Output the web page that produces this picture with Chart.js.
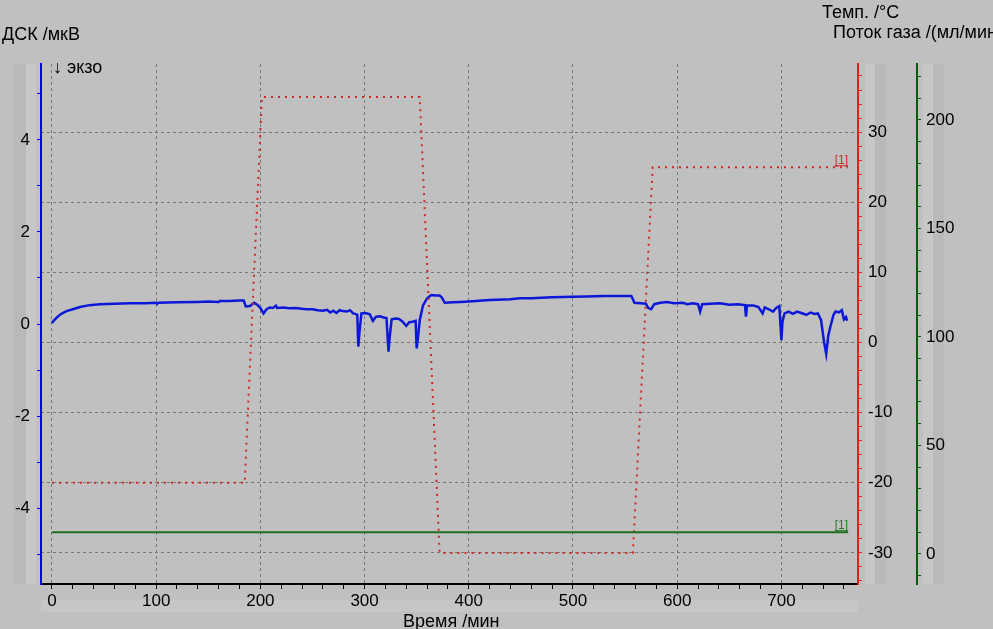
<!DOCTYPE html>
<html>
<head>
<meta charset="utf-8">
<script src="https://cdn.jsdelivr.net/npm/chart.js@4.4.1/dist/chart.umd.min.js"></script>
<style>
  html, body { margin: 0; padding: 0; background: #c0c0c0; overflow: hidden; }
  #wrap { position: relative; width: 993px; height: 629px; overflow: hidden; }
  #c { position: absolute; left: 0; top: 0; }
  .lbl { position: absolute; white-space: nowrap; font-family: "Liberation Sans", Arial, sans-serif;
         font-size: 18px; line-height: 20px; color: #000; }
</style>
</head>
<body>
<div id="wrap">
  <canvas id="c" width="993" height="629"></canvas>
  <div class="lbl" style="left:2px;top:24px">ДСК /мкВ</div>
  <div class="lbl" style="left:822px;top:2px">Темп. /°C</div>
  <div class="lbl" style="left:833px;top:22px">Поток газа /(мл/мин)</div>
  <div class="lbl" style="left:403px;top:611px">Время /мин</div>
  <div class="lbl" style="left:53px;top:57px">↓ экзо</div>
</div>
<script>
// DSC signal, µV vs time, min
var dscTime = [0, 2, 5, 9, 14, 20, 27, 36, 46, 60, 75, 90, 100, 101, 102, 120, 140, 150, 160, 161,
  170, 180, 184, 186, 190, 194, 197, 200, 203, 206, 209, 212, 215, 216, 222, 228, 234, 240, 244, 250,
  255, 260, 264, 267, 270, 273, 276, 279, 283, 286, 289, 291, 293, 294, 295, 297, 301, 305, 308, 311,
  315, 318, 321, 323, 324, 326, 330, 333, 336, 340, 343, 346, 349, 350, 351, 353, 356, 360, 364, 368,
  372, 374, 377, 385, 392, 400, 420, 440, 449, 460, 480, 500, 513, 530, 545, 556, 559, 565, 570, 572,
  575, 578, 584, 590, 597, 605, 610, 615, 620, 622, 624, 632, 641, 650, 658, 665, 666, 667, 673, 678,
  682, 684, 688, 692, 695, 698, 700, 701, 703, 707, 711, 715, 719, 724, 728, 732, 735, 738, 741, 743,
  745, 747, 750, 752, 755, 758, 760, 762, 763];
var dscValue = [0.02, 0.08, 0.15, 0.22, 0.28, 0.32, 0.37, 0.41, 0.43, 0.44, 0.45, 0.45, 0.46, 0.44, 0.46, 0.47, 0.48, 0.49, 0.48, 0.50,
  0.50, 0.51, 0.51, 0.38, 0.39, 0.46, 0.42, 0.35, 0.23, 0.32, 0.36, 0.35, 0.40, 0.35, 0.36, 0.34, 0.35, 0.33, 0.32, 0.32,
  0.30, 0.29, 0.31, 0.25, 0.29, 0.24, 0.30, 0.28, 0.27, 0.30, 0.23, 0.22, 0.20, -0.49, -0.20, 0.23, 0.24, 0.21, 0.07, 0.16,
  0.17, 0.14, 0.13, -0.60, -0.30, 0.10, 0.12, 0.11, 0.06, -0.04, 0.04, 0.05, 0.07, -0.53, -0.35, 0.09, 0.40, 0.56, 0.63, 0.62,
  0.62, 0.58, 0.46, 0.47, 0.48, 0.49, 0.52, 0.54, 0.56, 0.56, 0.58, 0.59, 0.60, 0.61, 0.61, 0.61, 0.46, 0.45, 0.44, 0.35,
  0.32, 0.43, 0.46, 0.48, 0.45, 0.46, 0.43, 0.45, 0.43, 0.27, 0.43, 0.44, 0.45, 0.42, 0.43, 0.41, 0.16, 0.40, 0.40, 0.37,
  0.23, 0.36, 0.32, 0.27, 0.35, 0.39, -0.35, 0.05, 0.23, 0.27, 0.22, 0.27, 0.24, 0.20, 0.25, 0.22, 0.23, 0.09, -0.40, -0.65,
  -0.25, -0.06, 0.20, 0.27, 0.25, 0.30, 0.10, 0.15, 0.07];

// temperature program, °C
var tempTime = [0, 185, 201.5, 353, 372, 557.5, 576.5, 764];
var tempValue = [-20, -20, 35, 35, -30, -30, 25, 25];

// gas flow, ml/min
var gasTime = [0, 764];
var gasValue = [10, 10];

function pts(xs, ys){
  var out = [];
  for (var i = 0; i < xs.length; i++) out.push({x: xs[i], y: ys[i]});
  return out;
}

var FONT = '"Liberation Sans", Arial, sans-serif';
var tickFont = {family: FONT, size: 17};
var gridGray = '#787878';

// faint label stripes of the original program
var bandsPlugin = {
  id: 'bands',
  beforeDraw: function(chart){
    var ctx = chart.ctx, a = chart.chartArea;
    ctx.save();
    ctx.fillStyle = '#c0c0c0';
    ctx.fillRect(0, 0, chart.width, chart.height);
    var h = a.bottom - a.top;
    ctx.fillStyle = '#b9b9b9';
    ctx.fillRect(14, a.top, 12, h);
    ctx.fillRect(a.right + 17, a.top, 11, h);
    ctx.fillRect(a.right + 75, a.top, 11, h);
    ctx.fillStyle = '#c7c7c7';
    ctx.fillRect(26, a.top, 10, h);
    ctx.fillRect(a.right + 7, a.top, 10, h);
    ctx.fillRect(a.right + 65, a.top, 10, h);
    ctx.fillStyle = '#c6c6c6';
    ctx.fillRect(a.left, a.bottom + 16, a.right - a.left, 12);
    ctx.restore();
  }
};

// "[1]" tags at the end of the temperature and gas curves
var tagPlugin = {
  id: 'tags',
  afterDatasetsDraw: function(chart){
    var ctx = chart.ctx;
    var xs = chart.scales.x;
    var tags = [
      {scale: chart.scales.yT, x: tempTime[tempTime.length - 1], y: tempValue[tempValue.length - 1], color: '#d03030'},
      {scale: chart.scales.yG, x: gasTime[gasTime.length - 1], y: gasValue[gasValue.length - 1], color: '#2a7a2a'}
    ];
    ctx.save();
    ctx.font = '12px ' + FONT;
    ctx.textAlign = 'right';
    ctx.textBaseline = 'alphabetic';
    tags.forEach(function(t){
      var px = xs.getPixelForValue(t.x);
      var py = t.scale.getPixelForValue(t.y) - 3;
      ctx.fillStyle = t.color;
      ctx.fillText('[1]', px, py);
      var w = ctx.measureText('[1]').width;
      ctx.fillRect(px - w, py + 1, w, 1);
    });
    ctx.restore();
  }
};

function gridDash(c){ return c.type === 'tick' ? [3, 3] : []; }

new Chart(document.getElementById('c').getContext('2d'), {
  type: 'line',
  data: {
    datasets: [
      {
        label: 'Поток газа',
        data: pts(gasTime, gasValue),
        yAxisID: 'yG',
        borderColor: '#1f6f1f',
        borderWidth: 2,
        pointRadius: 0,
        tension: 0
      },
      {
        label: 'Темп.',
        data: pts(tempTime, tempValue),
        yAxisID: 'yT',
        borderColor: '#d02828',
        borderWidth: 2,
        borderDash: [2, 5],
        pointRadius: 0,
        tension: 0
      },
      {
        label: 'ДСК',
        data: pts(dscTime, dscValue),
        yAxisID: 'y',
        borderColor: '#0c18d8',
        borderWidth: 2.5,
        pointRadius: 0,
        tension: 0
      }
    ]
  },
  options: {
    responsive: false,
    animation: false,
    layout: { padding: { top: 64, left: 0, right: 0, bottom: 0 } },
    plugins: { legend: { display: false }, tooltip: { enabled: false } },
    scales: {
      x: {
        type: 'linear',
        min: -10.5,
        max: 773.5,
        afterFit: function(s){ s.height = 45; },
        ticks: {
          stepSize: 20, autoSkip: false, maxRotation: 0, includeBounds: false,
          color: '#000', font: tickFont, padding: 2,
          callback: function(v){ return v % 100 === 0 ? String(v) : ''; }
        },
        grid: {
          color: function(c){ return c.tick && c.tick.value % 100 === 0 ? gridGray : 'rgba(0,0,0,0)'; },
          tickColor: '#000', tickLength: 5, tickBorderDash: [], lineWidth: 1
        },
        border: { color: '#000', width: 2, dash: gridDash }
      },
      y: {
        position: 'left',
        min: -5.65,
        max: 5.65,
        afterFit: function(s){ s.width = 41; },
        ticks: {
          stepSize: 1, autoSkip: false, includeBounds: false,
          color: '#000', font: tickFont, padding: 7,
          callback: function(v){ return v % 2 === 0 ? String(v) : ''; }
        },
        grid: { drawOnChartArea: false, tickColor: '#0000ff', tickLength: 4, tickBorderDash: [] },
        border: { color: '#0000ff', width: 2 }
      },
      yT: {
        position: 'right',
        min: -34.43,
        max: 39.71,
        afterFit: function(s){ s.width = 59; },
        ticks: {
          stepSize: 2, autoSkip: false, includeBounds: false,
          color: '#000', font: tickFont, padding: 6,
          callback: function(v){ return v % 10 === 0 ? String(v) : ''; }
        },
        grid: {
          drawOnChartArea: true,
          color: function(c){ return c.tick && c.tick.value % 10 === 0 ? gridGray : 'rgba(0,0,0,0)'; },
          tickColor: '#e81c1c', tickLength: 4, tickBorderDash: [], lineWidth: 1
        },
        border: { color: '#e81c1c', width: 2, dash: gridDash }
      },
      yG: {
        position: 'right',
        min: -13.9,
        max: 225.8,
        afterFit: function(s){ s.width = 76; },
        ticks: {
          stepSize: 10, autoSkip: false, includeBounds: false,
          color: '#000', font: tickFont, padding: 5,
          callback: function(v){ return v % 50 === 0 ? String(v) : ''; }
        },
        grid: { drawOnChartArea: false, tickColor: '#0a5e0a', tickLength: 4, tickBorderDash: [] },
        border: { color: '#0a5e0a', width: 2 }
      }
    }
  },
  plugins: [bandsPlugin, tagPlugin]
});
</script>
</body>
</html>
